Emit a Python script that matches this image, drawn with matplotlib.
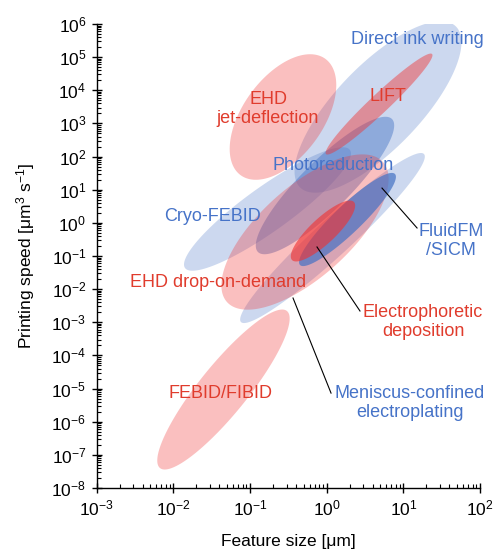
import numpy as np
import matplotlib
matplotlib.use("Agg")
import matplotlib.pyplot as plt
from matplotlib.ticker import LogLocator, NullFormatter, LogFormatterSciNotation

plt.rcParams['font.family'] = ['Liberation Sans', 'DejaVu Sans']
plt.rcParams['mathtext.fontset'] = 'custom'
plt.rcParams['mathtext.rm'] = 'Liberation Sans'
plt.rcParams['mathtext.it'] = 'Liberation Sans:italic'

# each region: tip of major axis (lower-left) -> tip (upper-right), width as fraction of half-length
# listed in drawing order
names = ['Direct ink writing', 'Cryo-FEBID', 'Meniscus-confined', 'Photoreduction',
         'EHD jet-deflection', 'EHD drop-on-demand', 'FEBID/FIBID', 'FluidFM/SICM', 'LIFT', 'Electrophoretic']
x_lo = [0.452, 0.0142, 0.0762, 0.127, 0.0755, 0.0501, 6.7e-3, 0.449, 0.98, 0.353]
y_lo = [11.6, 0.0434, 1.02e-3, 0.132, 27.4, 4.08e-3, 4.0e-8, 0.0535, 119, 0.0757]
x_hi = [48.3, 2.01, 18.6, 7.11, 0.96, 5.43, 0.303, 7.78, 23.7, 2.27]
y_hi = [8.5e5, 158, 119, 1358, 8.9e4, 68.5, 2.19e-3, 29.8, 1.24e5, 4.26]
ratio = [0.375, 0.22, 0.146, 0.26, 0.556, 0.43, 0.24, 0.21, 0.13, 0.3]
group = ['b', 'b', 'b', 'b', 'r', 'r', 'r', 'b', 'r', 'r']
alphas = [0.27, 0.27, 0.27, 0.45, 0.31, 0.31, 0.31, 0.7, 0.45, 0.62]

labels = ['Direct ink writing', 'EHD\njet-deflection', 'LIFT', 'Photoreduction', 'Cryo-FEBID',
          'FluidFM\n/SICM', 'EHD drop-on-demand', 'Electrophoretic\ndeposition',
          'Meniscus-confined\nelectroplating', 'FEBID/FIBID']
label_x = [15.1, 0.172, 6.3, 1.21, 0.0329, 41.9, 0.0382, 18.1, 12.2, 0.0418]
label_y = [3.5e5, 2.7e3, 6.3e3, 55.6, 1.6, 0.283, 0.0164, 1.02e-3, 3.66e-6, 7.3e-6]
label_grp = ['b', 'r', 'r', 'b', 'b', 'b', 'r', 'r', 'b', 'r']

# leader lines: (x0, y0, x1, y1)
leaders = [(5.27, 11.2, 15.1, 0.70),
           (0.748, 0.187, 2.72, 2.19e-3),
           (0.364, 5.4e-3, 1.14, 7.3e-6)]

fill_col = {'b': '#4472C4', 'r': '#F03232'}
text_col = {'b': '#4673C8', 'r': '#E03C2D'}


def draw_region(ax, x0, y0, x1, y1, r, color, alpha):
    p0 = ax.transData.transform((x0, y0))
    p1 = ax.transData.transform((x1, y1))
    c = (p0 + p1) / 2
    d = (p1 - p0) / 2
    a = np.hypot(*d)
    u = d / a
    n = np.array([-u[1], u[0]])
    t = np.linspace(0, 2 * np.pi, 300)
    pts = c + np.outer(a * np.cos(t), u) + np.outer(r * a * np.sin(t), n)
    data = ax.transData.inverted().transform(pts)
    ax.fill(data[:, 0], data[:, 1], color=color, alpha=alpha, lw=0)


fig = plt.figure(figsize=(4.95, 5.49), dpi=100)
ax = fig.add_axes([0.1953, 0.1111, 0.7744, 0.8452])
ax.set_xscale('log')
ax.set_yscale('log')
ax.set_xlim(1e-3, 1e2)
ax.set_ylim(1e-8, 1e6)

for i in range(len(names)):
    draw_region(ax, x_lo[i], y_lo[i], x_hi[i], y_hi[i], ratio[i], fill_col[group[i]], alphas[i])

for (x0, y0, x1, y1) in leaders:
    ax.plot([x0, x1], [y0, y1], color='k', lw=0.8)

for s, x, y, g in zip(labels, label_x, label_y, label_grp):
    ax.text(x, y, s, color=text_col[g], fontsize=13, ha='center', va='center', linespacing=1.15)

ax.set_xticks([10.0 ** k for k in range(-3, 3)])
ax.set_yticks([10.0 ** k for k in range(-8, 7)])
ax.xaxis.set_major_formatter(LogFormatterSciNotation())
ax.yaxis.set_major_formatter(LogFormatterSciNotation())
ax.xaxis.set_minor_locator(LogLocator(base=10, subs=np.arange(2, 10), numticks=100))
ax.yaxis.set_minor_locator(LogLocator(base=10, subs=np.arange(2, 10), numticks=100))
ax.xaxis.set_minor_formatter(NullFormatter())
ax.yaxis.set_minor_formatter(NullFormatter())
ax.set_xlim(1e-3, 1e2)
ax.set_ylim(1e-8, 1e6)

ax.tick_params(which='major', direction='inout', length=7, width=1, labelsize=12.5, pad=4)
ax.tick_params(which='minor', direction='in', length=3, width=0.8)
for side in ['top', 'right']:
    ax.spines[side].set_visible(False)
for side in ['left', 'bottom']:
    ax.spines[side].set_linewidth(1.0)

ax.set_xlabel('Feature size [μm]', fontsize=12.5, labelpad=11)
ax.set_ylabel('Printing speed [μm$^{3}$ s$^{-1}$]', fontsize=12.5, labelpad=10)

fig.savefig('out.png', dpi=100)
